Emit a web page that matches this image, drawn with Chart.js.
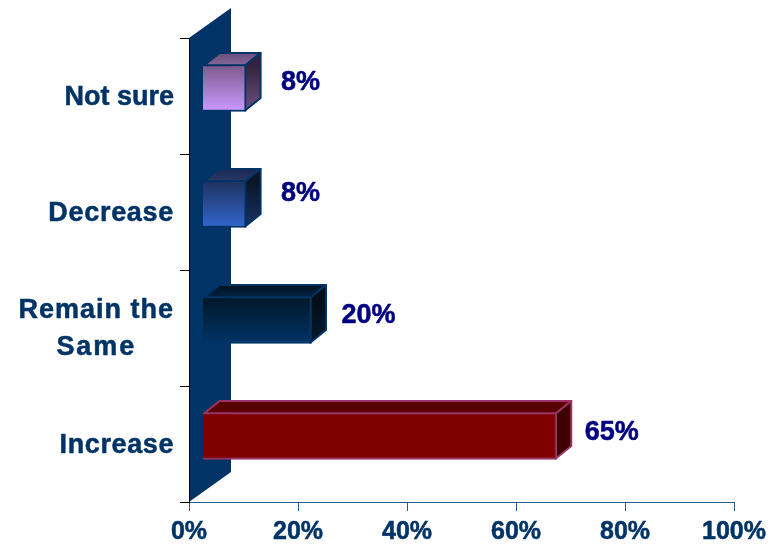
<!DOCTYPE html>
<html>
<head>
<meta charset="utf-8">
<title>Survey responses</title>
<script src="https://cdn.jsdelivr.net/npm/chart.js@4/dist/chart.umd.min.js"></script>
<style>
  html, body { margin: 0; padding: 0; background: #fff; }
  canvas { display: block; }
</style>
</head>
<body>
<canvas id="chart" width="777" height="544"></canvas>
<script>
// chart values
var categories = [["Not sure"], ["Decrease"], ["Remain the", "Same"], ["Increase"]];
var percentages = [8, 8, 20, 65];
var xTicks = [0, 20, 40, 60, 80, 100];

// colours per bar: [top, bottom] of each gradient face
var frontColors = [["#7a5a8c", "#cc99ff"], ["#1e3160", "#3366cc"], ["#021729", "#003366"], ["#800000", "#800000"]];
var sideColors = [["#33233f", "#6d4f7f"], ["#0a1526", "#1a3366"], ["#010d18", "#03192e"], ["#3f0000", "#3f0000"]];
var topColors = [["#6a4e7c", "#86699a"], ["#1a2a52", "#28396a"], ["#02121f", "#022444"], ["#5a0000", "#5a0000"]];
var edgeColors = ["#003366", "#003366", "#003366", "#993366"];

var navy = "#003366";
var labelFont = "bold 27px 'Liberation Sans', Arial, sans-serif";
var lineTracking = [[0], [0.7], [1, 1.9], [0.6]];
var valueNudge = [[4.5, 2], [4.5, -3], [-0.5, 3], [-2.5, 4]];
var barDepth = { x: 15.5, y: -12.5 };
var barShift = { x: 13.5, y: -8 };
var wallDepth = { x: 42, y: -30 };

function faceGradient(ctx, y0, y1, colors) {
    var g = ctx.createLinearGradient(0, y0, 0, y1);
    g.addColorStop(0, colors[0]);
    g.addColorStop(1, colors[1]);
    return g;
}

function polygon(ctx, points, fill, stroke, lineWidth) {
    ctx.beginPath();
    ctx.moveTo(points[0][0], points[0][1]);
    for (var i = 1; i < points.length; i++) {
        ctx.lineTo(points[i][0], points[i][1]);
    }
    ctx.closePath();
    ctx.fillStyle = fill;
    ctx.fill();
    if (stroke) {
        ctx.strokeStyle = stroke;
        ctx.lineWidth = lineWidth;
        ctx.lineJoin = "round";
        ctx.stroke();
    }
}

// filled text with a thin outline so the bold face reads heavier
function heavyText(ctx, text, x, y, color) {
    ctx.fillStyle = color;
    ctx.strokeStyle = color;
    ctx.lineWidth = 0.5;
    ctx.fillText(text, x, y);
    ctx.strokeText(text, x, y);
}

// back wall of the 3D plot
var wallPlugin = {
    id: "wall",
    beforeDraw: function(chart) {
        var a = chart.chartArea;
        polygon(chart.ctx, [
            [a.left, a.top],
            [a.left + wallDepth.x, a.top + wallDepth.y],
            [a.left + wallDepth.x, a.bottom + wallDepth.y],
            [a.left, a.bottom]
        ], navy);
    }
};

// top and side faces go under the front face the library draws
var boxPlugin = {
    id: "box",
    beforeDatasetDraw: function(chart, args) {
        var ctx = chart.ctx;
        args.meta.data.forEach(function(bar, i) {
            var half = bar.height / 2;
            var l = bar.base + barShift.x + 1;
            var r = bar.x + barShift.x - 1;
            var t = bar.y - half + barShift.y + 1;
            var b = bar.y + half + barShift.y - 1;
            var dx = barDepth.x, dy = barDepth.y;
            polygon(ctx, [[l, t], [l + dx, t + dy], [r + dx, t + dy], [r, t]],
                faceGradient(ctx, t + dy, t, topColors[i]), edgeColors[i], 2);
            polygon(ctx, [[r, t], [r + dx, t + dy], [r + dx, b + dy], [r, b]],
                faceGradient(ctx, t, b, sideColors[i]), edgeColors[i], 2);
        });
        ctx.save();
        ctx.translate(barShift.x, barShift.y);
    },
    afterDatasetDraw: function(chart) {
        chart.ctx.restore();
    }
};

// category names and the percentage beside each bar
var labelPlugin = {
    id: "labels",
    afterDraw: function(chart) {
        var ctx = chart.ctx;
        var yScale = chart.scales.y;
        var xScale = chart.scales.x;
        var bars = chart.getDatasetMeta(0).data;
        ctx.save();
        ctx.font = labelFont;
        ctx.textBaseline = "middle";
        categories.forEach(function(lines, i) {
            var cy = yScale.getPixelForValue(i);
            ctx.textAlign = "center";
            // multi-line names are centred under their widest line
            var widest = 0;
            lines.forEach(function(s, n) {
                ctx.letterSpacing = lineTracking[i][n] + "px";
                widest = Math.max(widest, ctx.measureText(s).width);
            });
            lines.forEach(function(s, n) {
                ctx.letterSpacing = lineTracking[i][n] + "px";
                var top = lines.length > 1 ? cy - 17.5 + 37 * n : cy + 1.5;
                heavyText(ctx, s, 174 - widest / 2, top, navy);
            });
        });
        ctx.letterSpacing = "0px";
        ctx.textAlign = "left";
        percentages.forEach(function(v, i) {
            heavyText(ctx, v + "%", xScale.getPixelForValue(v) + 44 + valueNudge[i][0], bars[i].y - 15 + valueNudge[i][1], "#000080");
        });
        ctx.restore();
    }
};

var config = {
    type: "bar",
    data: {
        labels: categories,
        datasets: [{
            data: percentages,
            barThickness: 47,
            borderWidth: 2,
            borderColor: edgeColors,
            backgroundColor: function(c) {
                var y = c.chart.scales.y;
                var mid = y ? y.getPixelForValue(c.dataIndex) : NaN;
                if (!isFinite(mid)) return navy;
                return faceGradient(c.chart.ctx, mid - 23, mid + 23, frontColors[c.dataIndex]);
            }
        }]
    },
    options: {
        indexAxis: "y",
        responsive: false,
        animation: false,
        layout: { padding: { top: 38, right: 43, bottom: 0, left: 0 } },
        plugins: { legend: { display: false }, tooltip: { enabled: false } },
        scales: {
            x: {
                min: 0,
                max: 100,
                afterBuildTicks: function(scale) {
                    scale.ticks = xTicks.map(function(v) { return { value: v }; });
                },
                afterFit: function(scale) { scale.height = 42; },
                border: { color: "#2a5a85", width: 1 },
                grid: { drawOnChartArea: false, color: "#2a5a85", tickLength: 9 },
                ticks: {
                    padding: 6,
                    maxRotation: 0,
                    color: navy,
                    textStrokeColor: navy,
                    textStrokeWidth: 0.5,
                    font: { family: "'Liberation Sans', Arial, sans-serif", size: 25, weight: "bold" },
                    callback: function(v) { return v + "%"; }
                }
            },
            y: {
                afterFit: function(scale) { scale.width = 189; },
                border: { color: "#000000", width: 1 },
                grid: { drawOnChartArea: false, color: "#000000", tickLength: 9 },
                ticks: { display: false }
            }
        }
    },
    plugins: [wallPlugin, boxPlugin, labelPlugin]
};

new Chart(document.getElementById("chart"), config);
</script>
</body>
</html>
